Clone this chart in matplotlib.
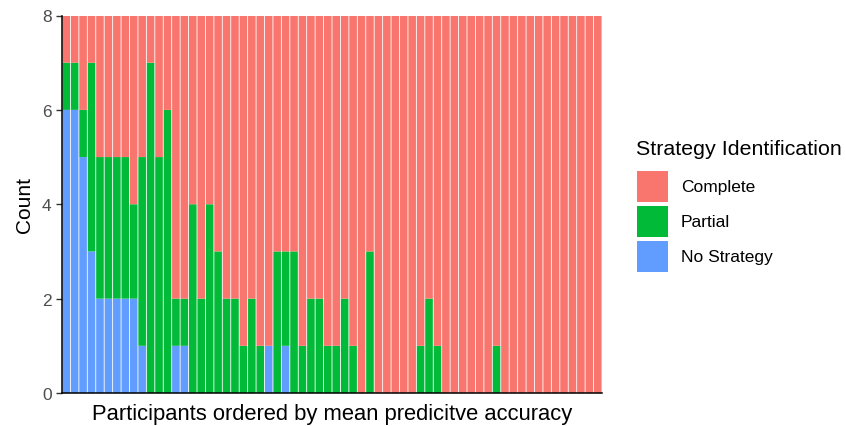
import numpy as np
import matplotlib
matplotlib.use("Agg")
import matplotlib.pyplot as plt
from matplotlib.patches import Rectangle

plt.rcParams["font.family"] = ["Liberation Sans", "DejaVu Sans"]

# counts per participant (64 participants, 8 trials each), ordered by accuracy
no_strategy = [6, 6, 5, 3, 2, 2, 2, 2, 2, 1, 0, 0, 0, 1, 1, 0,
               0, 0, 0, 0, 0, 0, 0, 0, 1, 0, 1, 0, 0, 0, 0, 0,
               0, 0, 0, 0, 0, 0, 0, 0, 0, 0, 0, 0, 0, 0, 0, 0,
               0, 0, 0, 0, 0, 0, 0, 0, 0, 0, 0, 0, 0, 0, 0, 0]
partial = [1, 1, 1, 4, 3, 3, 3, 3, 2, 4, 7, 5, 6, 1, 1, 4,
           2, 4, 3, 2, 2, 1, 2, 1, 0, 3, 2, 3, 1, 2, 2, 1,
           1, 2, 1, 0, 3, 0, 0, 0, 0, 0, 1, 2, 1, 0, 0, 0,
           0, 0, 0, 1, 0, 0, 0, 0, 0, 0, 0, 0, 0, 0, 0, 0]
total_trials = 8
categories = ["Complete", "Partial", "No Strategy"]
colors = {"Complete": "#F8766D", "Partial": "#00BA38", "No Strategy": "#619CFF"}

ns = np.array(no_strategy)
pa = np.array(partial)
co = total_trials - ns - pa
x = np.arange(len(ns))

W, H = 846, 427
fig = plt.figure(figsize=(W / 100, H / 100), dpi=100)
ax = fig.add_axes([62 / W, 1 - 394 / H, (602 - 62) / W, (394 - 16.5) / H])

w = 0.9
kw = dict(width=w, linewidth=0, snap=False, antialiased=True)
ax.bar(x, ns, color=colors["No Strategy"], **kw)
ax.bar(x, pa, bottom=ns, color=colors["Partial"], **kw)
ax.bar(x, co, bottom=ns + pa, color=colors["Complete"], **kw)

ax.set_xlim(-0.5, len(ns) - 0.5)
ax.set_ylim(0, 8)
ax.set_yticks([0, 2, 4, 6, 8])
ax.set_xticks([])
ax.tick_params(axis="y", labelsize=12.5, labelcolor="#4d4d4d", length=4, width=1, color="#333333")
for s in ["top", "right"]:
    ax.spines[s].set_visible(False)
for s in ["left", "bottom"]:
    ax.spines[s].set_linewidth(1.1)
ax.set_ylabel("Count", fontsize=15, labelpad=6)
ax.set_xlabel("Participants ordered by mean predicitve accuracy", fontsize=15.8, labelpad=7)

# legend drawn in figure pixels
fig.text(636 / W, 1 - 150 / H, "Strategy Identification", fontsize=15.4,
         ha="left", va="center")
for i, c in enumerate(categories):
    top = 172 + i * 35
    fig.patches.append(Rectangle((637 / W, 1 - (top + 31) / H), 31 / W, 31 / H,
                                 transform=fig.transFigure, facecolor=colors[c],
                                 edgecolor="none"))
    fig.text(681 / W, 1 - (top + 15.5) / H, c, fontsize=12.5, ha="left", va="center")

fig.savefig("out.png", dpi=100)
